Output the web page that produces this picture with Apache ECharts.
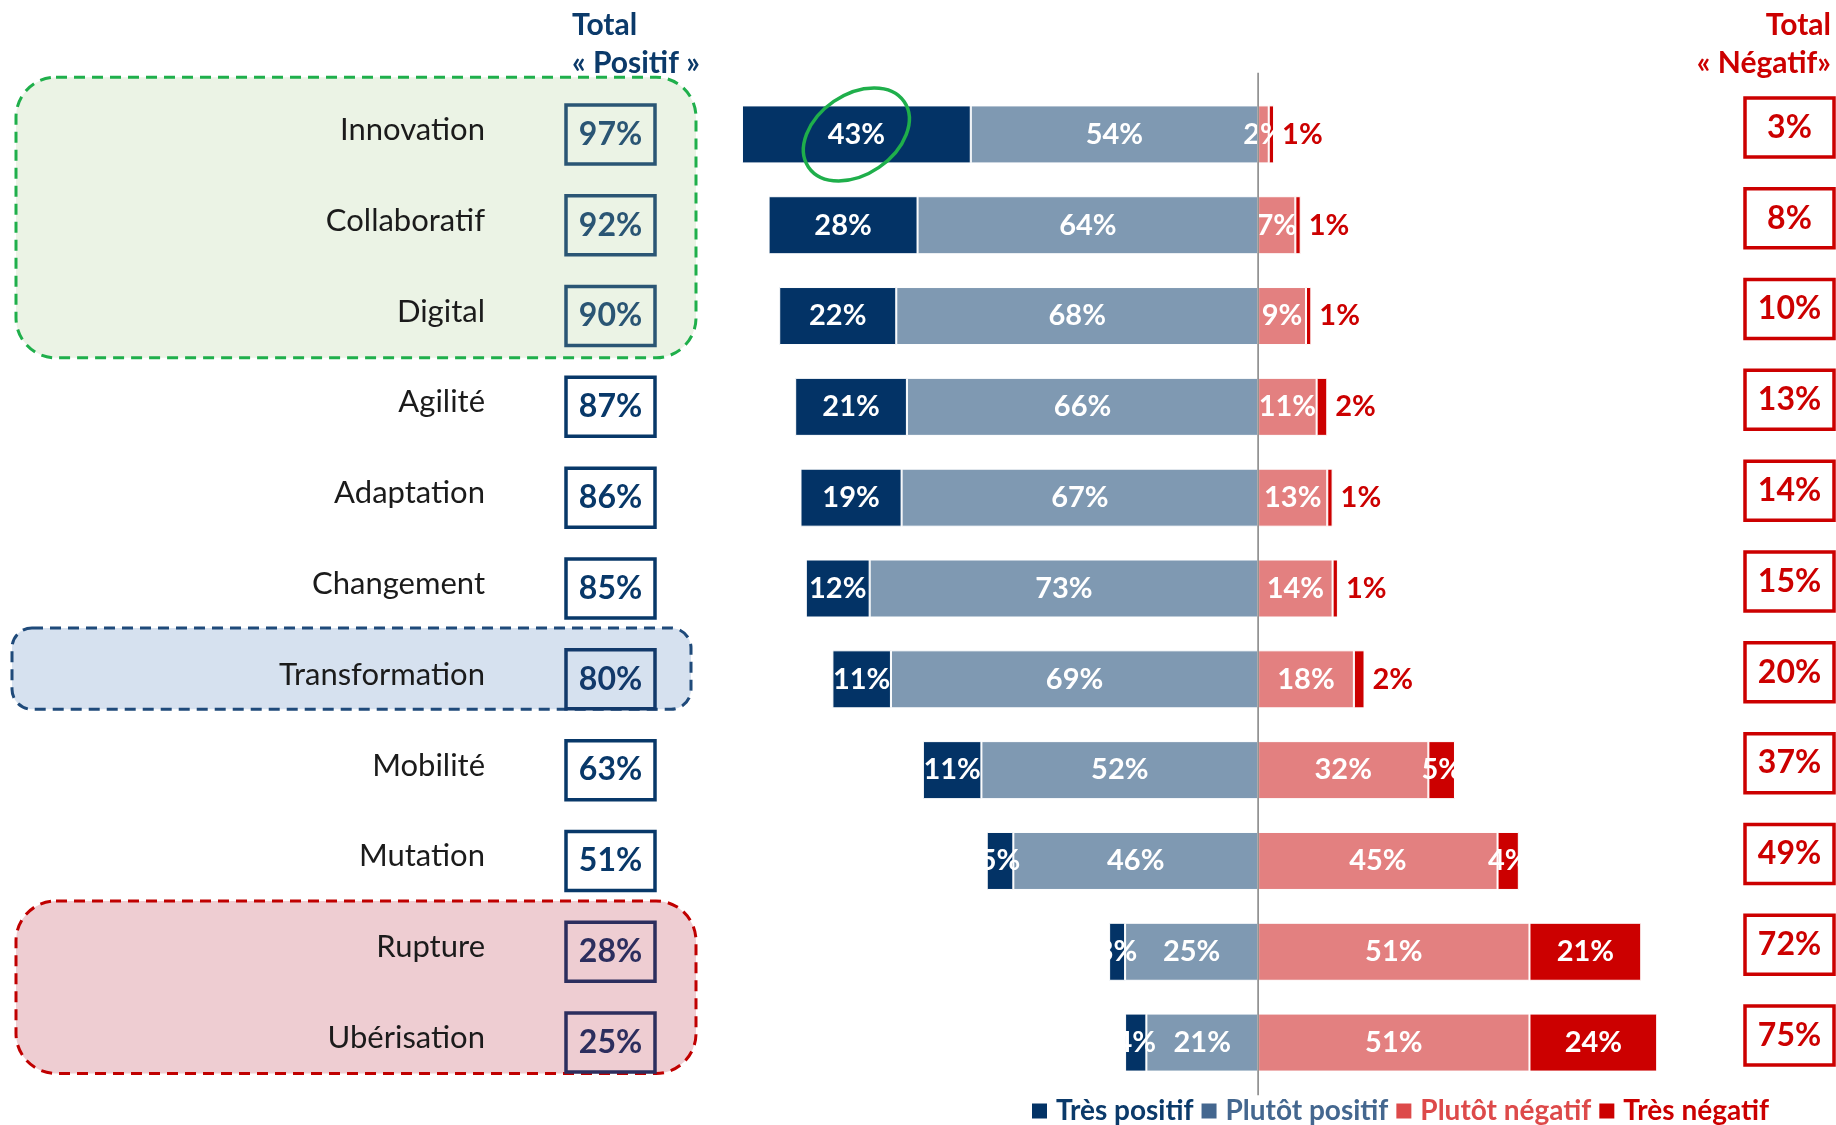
<!DOCTYPE html>
<html><head><meta charset="utf-8">
<script src="https://cdn.jsdelivr.net/npm/echarts@6/dist/echarts.min.js"></script>
<style>html,body{margin:0;padding:0;background:#fff}#c{width:1836px;height:1125px}</style>
</head><body><div id="c"></div>
<script>
// ---------- data ----------
const categories = ['Innovation','Collaboratif','Digital','Agilité','Adaptation','Changement','Transformation','Mobilité','Mutation','Rupture','Ubérisation'];
const tresPositif   = [43,28,22,21,19,12,11,11,5,3,4];
const plutotPositif = [54,64,68,66,67,73,69,52,46,25,21];
const plutotNegatif = [2,7,9,11,13,14,18,32,45,51,51];
const tresNegatif   = [1,1,1,2,1,1,2,5,4,21,24];
const totalPositif  = [97,92,90,87,86,85,80,63,51,28,25];
const totalNegatif  = [3,8,10,13,14,15,20,37,49,72,75];
const seriesNames   = ['Très positif','Plutôt positif','Plutôt négatif','Très négatif'];
const headerPositif = 'Total\n« Positif »';
const headerNegatif = 'Total\n« Négatif»';
const greenGroup = ['Innovation','Collaboratif','Digital'];
const blueGroup  = ['Transformation'];
const redGroup   = ['Rupture','Ubérisation'];
const circled    = 'Innovation';

// ---------- style ----------
const FONT = 'Lato, "Open Sans", sans-serif';
const C_TP = '#033366', C_PP = '#7F99B2', C_PN = '#E38080', C_TN = '#CC0000';
const pct = p => Math.abs(p.value) + '%';
const inLabel = {show:true, position:'inside', color:'#fff', fontFamily:FONT, fontWeight:'bold', fontSize:29, formatter:pct};
const boxBase = {width:89, height:59, lineHeight:59, align:'center', borderWidth:3.5, fontSize:32, fontWeight:'bold', fontFamily:FONT};

const chart = echarts.init(document.getElementById('c'), null, {renderer:'canvas'});

function posStyle(name){
  if (greenGroup.includes(name)) return 'g';
  if (blueGroup.includes(name)) return 'b';
  if (redGroup.includes(name)) return 'r';
  return 'n';
}

const option = {
  animation:false,
  backgroundColor:'#fff',
  grid:{left:726, top:89, width:1011, height:999, containLabel:false, outerBoundsMode:'none'},
  xAxis:{type:'value', min:-100, max:90, show:false},
  yAxis:[
    {type:'category', data:categories, inverse:true,
     axisLine:{show:false}, axisTick:{show:false},
     axisLabel:{interval:0, margin:241,
       formatter:v=>'{c|'+v+'}',
       rich:{c:{fontSize:31, color:'#1b1b1b', fontFamily:FONT, padding:[0,0,9,0]}}}},
    {type:'category', data:categories, inverse:true, position:'left',
     axisLine:{show:false}, axisTick:{show:false},
     axisLabel:{interval:0, margin:71,
       formatter:(v,i)=>'{'+posStyle(categories[i])+'|'+totalPositif[i]+'%}',
       rich:{
         n:Object.assign({}, boxBase, {color:'#083869', borderColor:'#083869'}),
         g:Object.assign({}, boxBase, {color:'#2A5574', borderColor:'#2A5574'}),
         b:Object.assign({}, boxBase, {color:'#12396A', borderColor:'#12396A'}),
         r:Object.assign({}, boxBase, {color:'#2C2E5E', borderColor:'#2C2E5E'})
       }}},
    {type:'category', data:categories, inverse:true, position:'right',
     axisLine:{show:false}, axisTick:{show:false},
     axisLabel:{interval:0, margin:8, padding:[0,0,14,0],
       formatter:(v,i)=>'{n|'+totalNegatif[i]+'%}',
       rich:{ n:Object.assign({}, boxBase, {color:C_TN, borderColor:C_TN}) }}}
  ],
  legend:{
    left:1025, top:1092, itemWidth:17, itemHeight:17, itemGap:6, icon:'rect',
    textStyle:{fontFamily:FONT, fontSize:28, fontWeight:'bold', padding:[0,0,0,3]},
    data:[
      {name:seriesNames[0], itemStyle:{color:'#033366'}, textStyle:{color:'#0B3A6A'}},
      {name:seriesNames[1], itemStyle:{color:'#44678F'}, textStyle:{color:'#44678F'}},
      {name:seriesNames[2], itemStyle:{color:'#DD4A4A'}, textStyle:{color:'#DD4A4A'}},
      {name:seriesNames[3], itemStyle:{color:C_TN}, textStyle:{color:C_TN}}
    ]
  },
  series:[
    {name:seriesNames[1], type:'bar', stack:'t', barWidth:58, data:plutotPositif.map(v=>-v),
     itemStyle:{color:C_PP, borderColor:'#fff', borderWidth:1}, label:inLabel},
    {name:seriesNames[0], type:'bar', stack:'t', barWidth:58, data:tresPositif.map(v=>-v),
     itemStyle:{color:C_TP, borderColor:'#fff', borderWidth:1}, label:inLabel},
    {name:seriesNames[2], type:'bar', stack:'t', barWidth:58, data:plutotNegatif,
     itemStyle:{color:C_PN, borderColor:'#fff', borderWidth:1}, label:inLabel},
    {name:seriesNames[3], type:'bar', stack:'t', barWidth:58,
     data:tresNegatif.map(v=> v < 3 ? {value:v, label:{position:'right', distance:8, color:C_TN}} : v),
     itemStyle:{color:C_TN, borderColor:'#fff', borderWidth:1}, label:inLabel}
  ]
};
chart.setOption(option);

// ---------- annotations placed through the chart's own scales ----------
const yc = name => chart.convertToPixel({yAxisIndex:0}, name);
const band = yc(categories[1]) - yc(categories[0]);
function groupRect(names, topF, botF, x0, x1, r, fill, stroke){
  const top = yc(names[0]) - topF*band;
  const bot = yc(names[names.length-1]) + botF*band;
  return {type:'rect', z:-10, silent:true,
    shape:{x:x0, y:top, width:x1-x0, height:bot-top, r:r},
    style:{fill:fill, stroke:stroke, lineWidth:3, lineDash:[11,7]}};
}
const ci = categories.indexOf(circled);
const ell = chart.convertToPixel({gridIndex:0}, [-(plutotPositif[ci] + tresPositif[ci]/2), circled]);
const x0 = chart.convertToPixel({xAxisIndex:0}, 0);
chart.setOption({graphic:[
  groupRect(greenGroup, 0.63, 0.46, 16, 696, 40, '#EBF3E5', '#1FAF4B'),
  groupRect(blueGroup, 0.565, 0.33, 12, 691, 20, '#D6E1EF', '#1F4A7A'),
  groupRect(redGroup, 0.56, 0.34, 16, 696, 40, '#EECDD2', '#C00000'),
  {type:'line', z:100, silent:true,
   shape:{x1:x0, y1:yc(categories[0]) - 0.68*band, x2:x0, y2:yc(categories[categories.length-1]) + 0.58*band},
   style:{stroke:'#808080', lineWidth:1.5}},
  {type:'ellipse', z:100, silent:true, x:ell[0], y:ell[1], rotation:0.6,
   shape:{cx:0, cy:0, rx:58, ry:40}, style:{fill:'none', stroke:'#1FAF4B', lineWidth:3.5}},
  {type:'text', z:10, x:572, y:6, style:{text:headerPositif, fill:'#0B3A6A', font:'bold 30px '+FONT, lineHeight:38, align:'left', verticalAlign:'top'}},
  {type:'text', z:10, x:1831, y:6, style:{text:headerNegatif, fill:C_TN, font:'bold 30px '+FONT, lineHeight:38, align:'right', verticalAlign:'top'}}
]});
</script>
</body></html>
